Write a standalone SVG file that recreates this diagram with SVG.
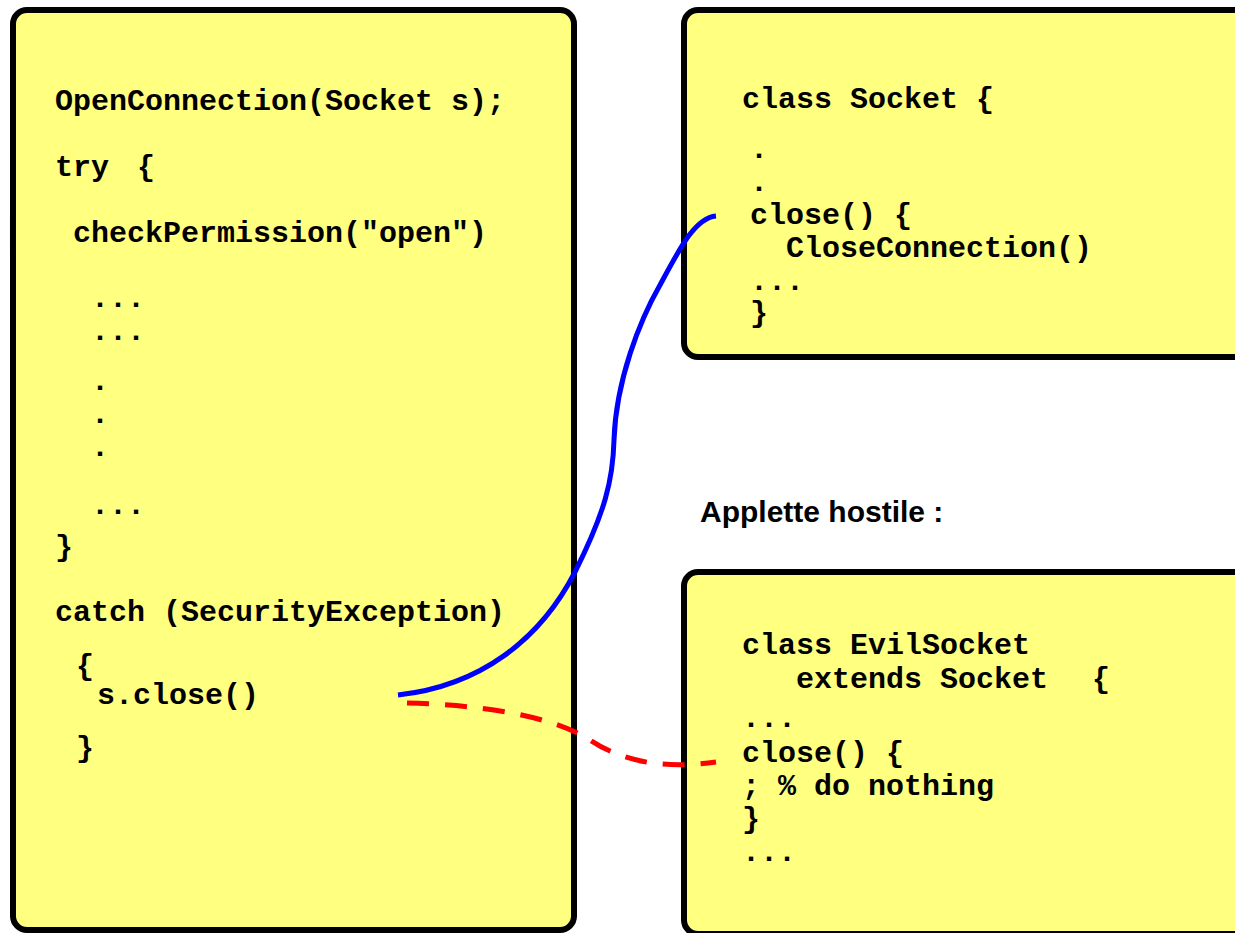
<svg xmlns="http://www.w3.org/2000/svg" width="1235" height="933" viewBox="0 0 1235 933">
<style>
.box{fill:#ffff80;stroke:#000;stroke-width:6}
.code{font-family:"Liberation Mono","Courier New",monospace;font-weight:bold;font-size:30px;fill:#000}
.lbl{font-family:"Liberation Sans",Arial,sans-serif;font-weight:bold;font-size:30px;fill:#000}
.blue{fill:none;stroke:#0000ff;stroke-width:5}
.red{fill:none;stroke:#ff0000;stroke-width:5;stroke-dasharray:22 16}
</style>
<rect width="1235" height="933" fill="#fff"/>
<g id="node-caller">
<rect class="box" x="13" y="10" width="561" height="920" rx="14"/>
<g class="code">
<text x="55" y="110">OpenConnection(Socket s);</text>
<text x="55" y="176">try <tspan x="137">{</tspan></text>
<text x="73" y="242">checkPermission("open")</text>
<text x="91" y="307">...</text>
<text x="91" y="340">...</text>
<text x="91" y="390">.</text>
<text x="91" y="423">.</text>
<text x="91" y="456">.</text>
<text x="91" y="514">...</text>
<text x="55" y="556">}</text>
<text x="55" y="621">catch (SecurityException)</text>
<text x="76" y="675">{</text>
<text x="97" y="704">s.close()</text>
<text x="76" y="757">}</text>
</g>
</g>
<g id="node-socket">
<rect class="box" x="684" y="10" width="580" height="347" rx="14"/>
<g class="code">
<text x="742" y="108">class Socket {</text>
<text x="750" y="158">.</text>
<text x="750" y="191">.</text>
<text x="750" y="224">close() {</text>
<text x="786" y="257">CloseConnection()</text>
<text x="750" y="290">...</text>
<text x="750" y="322">}</text>
</g>
</g>
<g id="label-hostile">
<text class="lbl" x="700" y="522">Applette hostile :</text>
</g>
<g id="node-evilsocket">
<rect class="box" x="684" y="572" width="580" height="362" rx="14"/>
<g class="code">
<text x="742" y="654">class EvilSocket</text>
<text x="796" y="688">extends Socket <tspan x="1092">{</tspan></text>
<text x="742" y="727">...</text>
<text x="742" y="762">close() {</text>
<text x="742" y="795">; % do nothing</text>
<text x="742" y="828">}</text>
<text x="742" y="861">...</text>
</g>
</g>
<g id="connectors">
<path class="blue" d="M398,695 C480,686 540,640 575,572 C605,512 613,480 614,440 C616,380 640,320 660,285 C680,248 695,218 716,216"/>
<path class="red" d="M407,703 C480,705 550,715 590,740 C620,760 660,770 716,762"/>
</g>
</svg>
